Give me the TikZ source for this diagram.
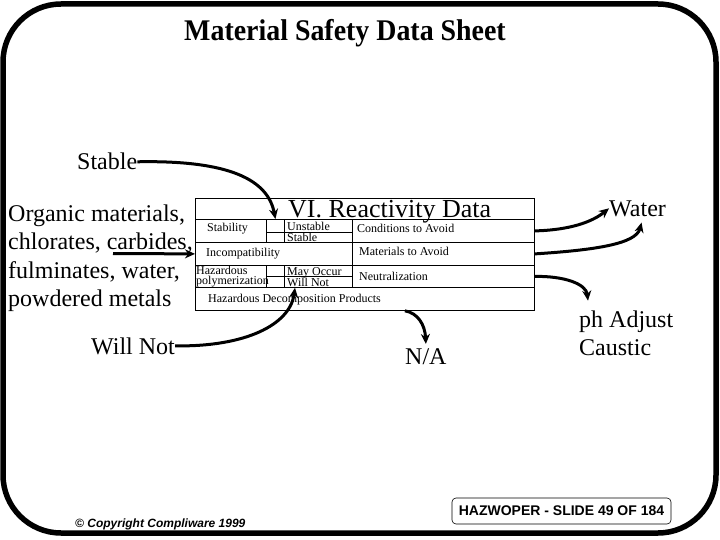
\documentclass[tikz,border=0pt]{standalone}
\usepackage{fontspec}
\setmainfont{Liberation Serif}
\newfontfamily\slidesans{Liberation Sans}
\newfontfamily\headserif[FakeStretch=0.93]{Liberation Serif}
\usetikzlibrary{arrows.meta, positioning}

\begin{document}
\begin{tikzpicture}[
    x=1pt, y=-1pt,
    cell/.style={rectangle, draw, line width=0.8pt, anchor=north west, inner sep=0pt},
    big/.style={inner sep=0pt, font=\fontsize{24}{28.5}\selectfont},
    small/.style={inner sep=0pt, anchor=base west, font=\fontsize{12}{10}\selectfont},
    arr/.style={-{Stealth[length=10pt, width=9pt]}, line width=3pt}
]
\useasboundingbox (0,0) rectangle (720,540);
\draw[line width=5.5pt, rounded corners=58pt] (3,4) rectangle (716,533);

\node[inner sep=0pt, anchor=base, font=\headserif\bfseries\fontsize{30}{30}\selectfont] (head) at (345,41) {Material Safety Data Sheet};

\node[cell, minimum width=339pt, minimum height=21pt] (ttl) at (195,198) {};
\node[cell, minimum width=71pt, minimum height=23pt] (stab) at (195,219) {};
\node[cell, minimum width=18pt, minimum height=13pt] (chka) at (266,219) {};
\node[cell, minimum width=18pt, minimum height=10pt] (chkb) at (266,232) {};
\node[cell, minimum width=68pt, minimum height=13pt] (unst) at (284,219) {};
\node[cell, minimum width=68pt, minimum height=10pt] (stbl) at (284,232) {};
\node[cell, minimum width=182pt, minimum height=23pt] (cond) at (352,219) {};
\node[cell, minimum width=157pt, minimum height=23pt] (incomp) at (195,242) {};
\node[cell, minimum width=182pt, minimum height=23pt] (mat) at (352,242) {};
\node[cell, minimum width=71pt, minimum height=22pt] (hazpol) at (195,265) {};
\node[cell, minimum width=18pt, minimum height=11pt] (chkc) at (266,265) {};
\node[cell, minimum width=18pt, minimum height=11pt] (chkd) at (266,276) {};
\node[cell, minimum width=68pt, minimum height=11pt] (may) at (284,265) {};
\node[cell, minimum width=68pt, minimum height=11pt] (wnot) at (284,276) {};
\node[cell, minimum width=182pt, minimum height=22pt] (neut) at (352,265) {};
\node[cell, minimum width=339pt, minimum height=23pt] (decomp) at (195,287) {};

\node[inner sep=0pt, anchor=base west, font=\fontsize{26}{26}\selectfont] (ttltxt) at (288,218) {VI. Reactivity Data};
\node[small] (stabtxt) at (207,232) {Stability};
\node[small] (unsttxt) at (287,230) {Unstable};
\node[small] (stbltxt) at (287,241) {Stable};
\node[small] (condtxt) at (357,233) {Conditions to Avoid};
\node[small] (inctxt) at (206,256) {Incompatibility};
\node[small] (mattxt) at (359,255) {Materials to Avoid};
\node[small, anchor=north west, align=left, font=\fontsize{12}{10.5}\selectfont] (haztxt) at (196,265.5) {Hazardous\\polymerization};
\node[small] (maytxt) at (287,275) {May Occur};
\node[small] (wnottxt) at (287,286) {Will Not};
\node[small] (neuttxt) at (359,280) {Neutralization};
\node[small] (dectxt) at (208,302) {Hazardous Decomposition Products};

\node[big, anchor=base west] (stb) at (77,170) {Stable};
\node[big, anchor=north west, align=left] (org) at (8,204.6) {Organic materials,\\chlorates, carbides,\\fulminates, water,\\powdered metals};
\node[big, anchor=base west] (wnt) at (91,354) {Will Not};
\node[big, anchor=base west] (wtr) at (609,216) {Water};
\node[big, anchor=north west, align=left] (ph) at (579,310.6) {ph Adjust\\Caustic};
\node[big, anchor=base west] (na) at (405,364) {N/A};

\coordinate (incs) at (113,253.5);
\draw[arr] (stb.east) .. controls (230,160) and (268,180) .. (chka.north);
\draw[arr] (incs) -- (incomp.west);
\draw[arr] (wnt.east) .. controls (245,347) and (290,325) .. ([xshift=11pt]wnot.south west);
\draw[arr] (cond.east) .. controls (570,230) and (592,222) .. (wtr.west);
\draw[arr] (mat.east) .. controls (595,250) and (636,244) .. ([xshift=4pt, yshift=-6pt]wtr.south);
\draw[arr] (neut.east) .. controls (565,276) and (586,284) .. ([xshift=9pt, yshift=10pt]ph.north west);
\draw[arr] ([xshift=40pt]decomp.south) .. controls (418,313) and (425,325) .. ([yshift=4pt]na.north);

\node[inner sep=0pt, anchor=base west, font=\slidesans\bfseries\itshape\fontsize{12}{12}\selectfont] (copy) at (75,527.5) {© Copyright Compliware 1999};
\node[draw, rounded corners=4pt, line width=0.6pt, minimum width=219pt, minimum height=26pt, inner sep=0pt, font=\slidesans\bfseries\fontsize{14}{14}\selectfont] (slide) at (561.5,511) {HAZWOPER - SLIDE 49 OF 184};
\end{tikzpicture}
\end{document}
